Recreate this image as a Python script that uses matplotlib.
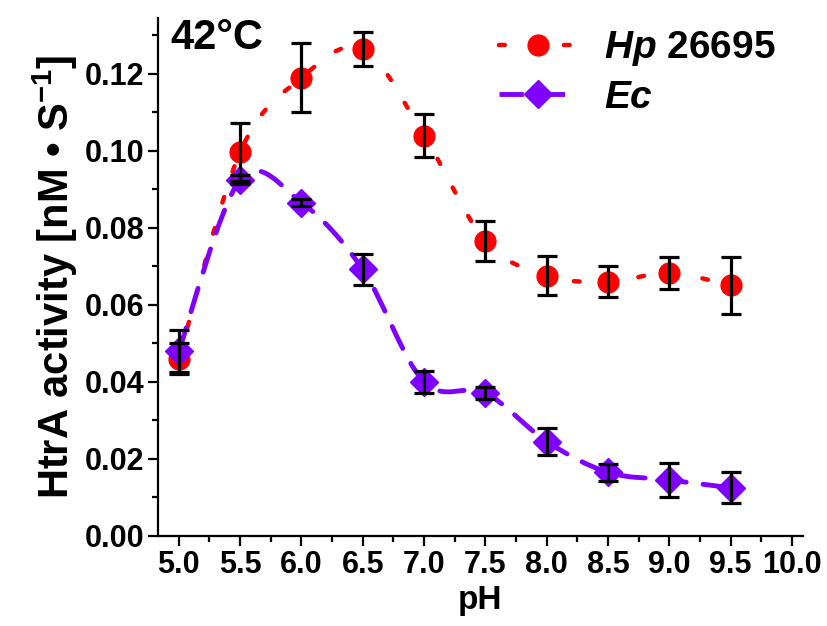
import numpy as np
import matplotlib
matplotlib.use('Agg')
import matplotlib.pyplot as plt
from matplotlib.path import Path
from matplotlib.patches import PathPatch
from matplotlib.lines import Line2D
from matplotlib.ticker import MultipleLocator

plt.rcParams['font.family'] = ['Liberation Sans', 'DejaVu Sans']
plt.rcParams['font.weight'] = 'bold'
plt.rcParams['mathtext.fontset'] = 'custom'
plt.rcParams['mathtext.rm'] = 'Liberation Sans:bold'
plt.rcParams['mathtext.bf'] = 'Liberation Sans:bold'
plt.rcParams['mathtext.it'] = 'Liberation Sans:italic:bold'

ph = np.array([5.0, 5.5, 6.0, 6.5, 7.0, 7.5, 8.0, 8.5, 9.0, 9.5])
hp = np.array([0.0460, 0.0997, 0.1190, 0.1265, 0.1040, 0.0766, 0.0676, 0.0660, 0.0683, 0.0651])
hp_err = np.array([0.0040, 0.0075, 0.0090, 0.0045, 0.0055, 0.0052, 0.0050, 0.0040, 0.0042, 0.0074])
ec = np.array([0.0480, 0.0925, 0.0866, 0.0692, 0.0400, 0.0371, 0.0245, 0.0165, 0.0145, 0.0125])
ec_err = np.array([0.0055, 0.0012, 0.0008, 0.0040, 0.0028, 0.0016, 0.0034, 0.0022, 0.0045, 0.0040])

red = '#ff0000'
violet = '#8000ff'


def spline_path(x, y):
    # Catmull-Rom segments as cubic Bezier curves
    px = np.concatenate([[x[0]], x, [x[-1]]])
    py = np.concatenate([[y[0]], y, [y[-1]]])
    verts = [(x[0], y[0])]
    codes = [Path.MOVETO]
    for i in range(1, len(px) - 2):
        c1 = (px[i] + (px[i + 1] - px[i - 1]) / 6, py[i] + (py[i + 1] - py[i - 1]) / 6)
        c2 = (px[i + 1] - (px[i + 2] - px[i]) / 6, py[i + 1] - (py[i + 2] - py[i]) / 6)
        verts += [c1, c2, (px[i + 1], py[i + 1])]
        codes += [Path.CURVE4] * 3
    return Path(verts, codes)


fig = plt.figure(figsize=(8.27, 6.26), dpi=100)
ax = fig.add_axes([0.191, 0.144, 0.780, 0.827])

red_ls = (0, (1.3, 6))
vio_ls = (0, (5, 3.5))

ax.add_patch(PathPatch(spline_path(ph, hp), fill=False, edgecolor=red, lw=3.2,
                       linestyle=red_ls, capstyle='round', zorder=2))
ax.add_patch(PathPatch(spline_path(ph, ec), fill=False, edgecolor=violet, lw=3.5,
                       linestyle=vio_ls, capstyle='round', zorder=2))

ax.plot(ph, hp, 'o', color=red, ms=15, zorder=3)
ax.plot(ph, ec, 'D', color=violet, ms=14, zorder=3)
ax.errorbar(ph, hp, yerr=hp_err, fmt='none', ecolor='black', elinewidth=2.3,
            capsize=7, capthick=2.3, zorder=4)
ax.errorbar(ph, ec, yerr=ec_err, fmt='none', ecolor='black', elinewidth=2.3,
            capsize=7, capthick=2.3, zorder=4)

ax.set_xlim(4.83, 10.09)
ax.set_ylim(0, 0.1345)
ax.xaxis.set_minor_locator(MultipleLocator(0.25))
ax.yaxis.set_minor_locator(MultipleLocator(0.01))
ax.set_xticks(np.arange(5.0, 10.01, 0.5))
ax.set_xticklabels(['%.1f' % v for v in np.arange(5.0, 10.01, 0.5)])
ax.set_yticks(np.arange(0, 0.121, 0.02))
ax.set_yticklabels(['%.2f' % v for v in np.arange(0, 0.121, 0.02)])

for s in ['top', 'right']:
    ax.spines[s].set_visible(False)
for s in ['left', 'bottom']:
    ax.spines[s].set_linewidth(1.6)
ax.tick_params(which='major', direction='out', length=7, width=1.6, labelsize=22, pad=3)
ax.tick_params(which='minor', direction='out', length=4, width=1.6)

ax.set_xlabel('pH', fontsize=24, fontweight='bold', labelpad=4)
ax.set_ylabel(r'HtrA activity [nM • S$^{-1}$]', fontsize=30, fontweight='bold', labelpad=3)

ax.text(0.02, 1.0, '42°C', transform=ax.transAxes, fontsize=30, fontweight='bold',
        va='top', ha='left')

handles = [
    Line2D([], [], color=red, lw=3.2, linestyle=red_ls, dash_capstyle='round',
           marker='o', ms=15),
    Line2D([], [], color=violet, lw=3.5, linestyle=vio_ls, marker='D', ms=14),
]
labels = [r'$\mathit{Hp}$ 26695', r'$\mathit{Ec}$']
fig.legend(handles, labels, loc='upper left', bbox_to_anchor=(0.603, 0.953),
           frameon=False, fontsize=28, handlelength=2.0, handletextpad=0.7,
           labelspacing=0.3, borderpad=0, borderaxespad=0)

fig.savefig('out.png', dpi=100)
